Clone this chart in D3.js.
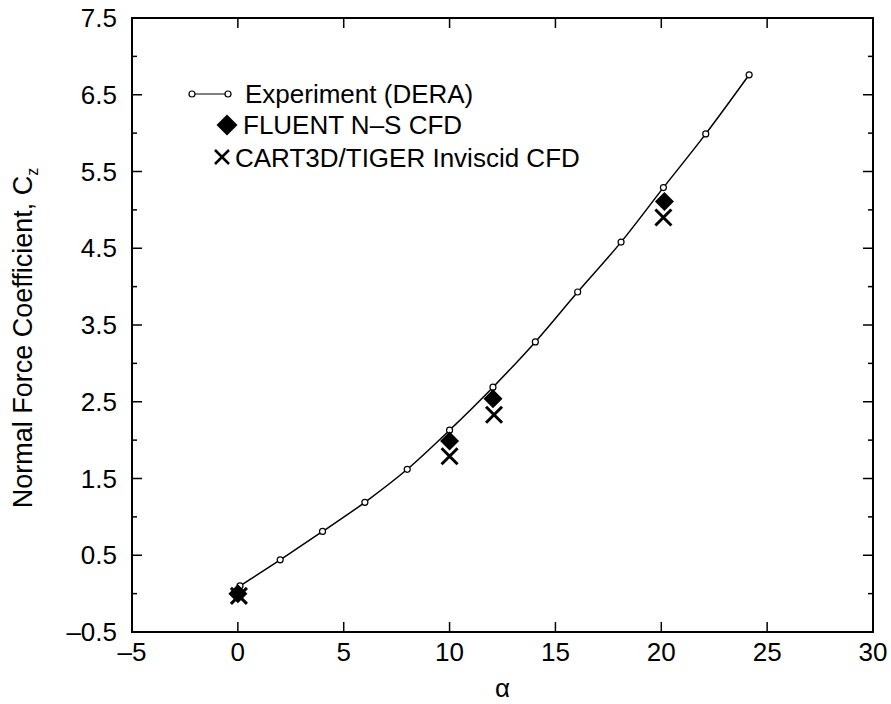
<!DOCTYPE html>
<html>
<head>
<meta charset="utf-8">
<script src="https://cdn.jsdelivr.net/npm/d3@7"></script>
<style>
  body { margin: 0; background: #fff; }
  text { font-family: Arial, "Liberation Sans", Helvetica, sans-serif; fill: #000; }
</style>
</head>
<body>
<svg id="chart" width="891" height="704"></svg>
<script>
// experiment (DERA)
const expAlpha = [0.1, 2, 4, 6, 8, 10, 12.05, 14.05, 16.05, 18.1, 20.1, 22.1, 24.15];
const expCz = [0.10, 0.44, 0.81, 1.19, 1.62, 2.13, 2.69, 3.28, 3.93, 4.58, 5.29, 5.99, 6.76];

// FLUENT N-S CFD
const fluentAlpha = [0, 10, 12.05, 20.15];
const fluentCz = [0.0, 1.99, 2.54, 5.11];

// CART3D/TIGER inviscid CFD
const cartAlpha = [0.05, 10, 12.1, 20.1];
const cartCz = [-0.03, 1.79, 2.33, 4.90];

const xTicks = [-5, 0, 5, 10, 15, 20, 25, 30];
const yTicks = [-0.5, 0.5, 1.5, 2.5, 3.5, 4.5, 5.5, 6.5, 7.5];
const yMinor = [0, 1, 2, 3, 4, 5, 6, 7];

const legendLabels = ['Experiment (DERA)', 'FLUENT N\u2013S CFD', 'CART3D/TIGER Inviscid CFD'];

const svg = d3.select('#chart');

const LEFT = 132, RIGHT = 873, TOP = 18, BOTTOM = 632;
const FONT = 26;

const x = d3.scaleLinear().domain([-5, 30]).range([LEFT, RIGHT]);
const y = d3.scaleLinear().domain([-0.5, 7.5]).range([BOTTOM, TOP]);

// frame
svg.append('rect')
    .attr('x', LEFT).attr('y', TOP)
    .attr('width', RIGHT - LEFT).attr('height', BOTTOM - TOP)
    .attr('fill', 'none').attr('stroke', '#000').attr('stroke-width', 2);

// ticks, all pointing inwards
const tickG = svg.append('g').attr('stroke', '#000').attr('stroke-width', 1.5);
xTicks.slice(1, -1).forEach(v => {
    tickG.append('line').attr('x1', x(v)).attr('x2', x(v)).attr('y1', BOTTOM).attr('y2', BOTTOM - 10);
    tickG.append('line').attr('x1', x(v)).attr('x2', x(v)).attr('y1', TOP).attr('y2', TOP + 10);
});
yTicks.slice(1, -1).forEach(v => {
    tickG.append('line').attr('x1', LEFT).attr('x2', LEFT + 10).attr('y1', y(v)).attr('y2', y(v));
    tickG.append('line').attr('x1', RIGHT).attr('x2', RIGHT - 10).attr('y1', y(v)).attr('y2', y(v));
});
yMinor.forEach(v => {
    tickG.append('line').attr('x1', LEFT).attr('x2', LEFT + 5).attr('y1', y(v)).attr('y2', y(v));
    tickG.append('line').attr('x1', RIGHT).attr('x2', RIGHT - 5).attr('y1', y(v)).attr('y2', y(v));
});

// tick labels
svg.append('g').selectAll('text').data(xTicks).join('text')
    .attr('x', d => x(d)).attr('y', 661)
    .attr('text-anchor', 'middle').attr('font-size', FONT)
    .text(d => d < 0 ? '\u2013' + Math.abs(d) : d);

svg.append('g').selectAll('text').data(yTicks).join('text')
    .attr('x', 117).attr('y', d => y(d)).attr('dy', '0.35em')
    .attr('text-anchor', 'end').attr('font-size', FONT)
    .text(d => d < 0 ? '\u2013' + Math.abs(d).toFixed(1) : d.toFixed(1));

// axis titles
svg.append('text')
    .attr('x', (LEFT + RIGHT) / 2).attr('y', 697)
    .attr('text-anchor', 'middle').attr('font-size', FONT)
    .text('\u03b1');

const yTitle = svg.append('text')
    .attr('transform', 'translate(32,338) rotate(-90)')
    .attr('text-anchor', 'middle').attr('font-size', 27);
yTitle.append('tspan').text('Normal Force Coefficient, C');
yTitle.append('tspan').attr('font-size', 16).attr('dy', 6).text('z');

// experiment curve
const expData = expAlpha.map((a, i) => [a, expCz[i]]);
const line = d3.line().x(d => x(d[0])).y(d => y(d[1])).curve(d3.curveMonotoneX);
svg.append('path').datum(expData)
    .attr('d', line).attr('fill', 'none')
    .attr('stroke', '#000').attr('stroke-width', 1.5);
svg.append('g').selectAll('circle').data(expData).join('circle')
    .attr('cx', d => x(d[0])).attr('cy', d => y(d[1])).attr('r', 3)
    .attr('fill', '#fff').attr('stroke', '#000').attr('stroke-width', 1.2);

// markers
function diamond(g, cx, cy, r) {
    g.append('path')
        .attr('d', `M${cx},${cy - r}L${cx + r},${cy}L${cx},${cy + r}L${cx - r},${cy}Z`)
        .attr('fill', '#000');
}
function cross(g, cx, cy, r, w) {
    g.append('path')
        .attr('d', `M${cx - r},${cy - r}L${cx + r},${cy + r}M${cx - r},${cy + r}L${cx + r},${cy - r}`)
        .attr('stroke', '#000').attr('stroke-width', w).attr('fill', 'none');
}

const markG = svg.append('g');
fluentAlpha.forEach((a, i) => diamond(markG, x(a), y(fluentCz[i]), 9.5));
cartAlpha.forEach((a, i) => cross(markG, x(a), y(cartCz[i]), 8, 3));

// legend
const lg = svg.append('g');
lg.append('line').attr('x1', 192).attr('x2', 228).attr('y1', 94).attr('y2', 94)
    .attr('stroke', '#000').attr('stroke-width', 1.2);
[192, 228].forEach(cx => lg.append('circle').attr('cx', cx).attr('cy', 94).attr('r', 3)
    .attr('fill', '#fff').attr('stroke', '#000').attr('stroke-width', 1.2));
diamond(lg, 227, 125, 10.5);
cross(lg, 222, 157, 7, 2.5);

const legendX = [245, 243, 235];
const legendY = [103, 134, 166.5];
legendLabels.forEach((t, i) => {
    lg.append('text').attr('x', legendX[i]).attr('y', legendY[i])
        .attr('font-size', FONT).text(t);
});
</script>
</body>
</html>
